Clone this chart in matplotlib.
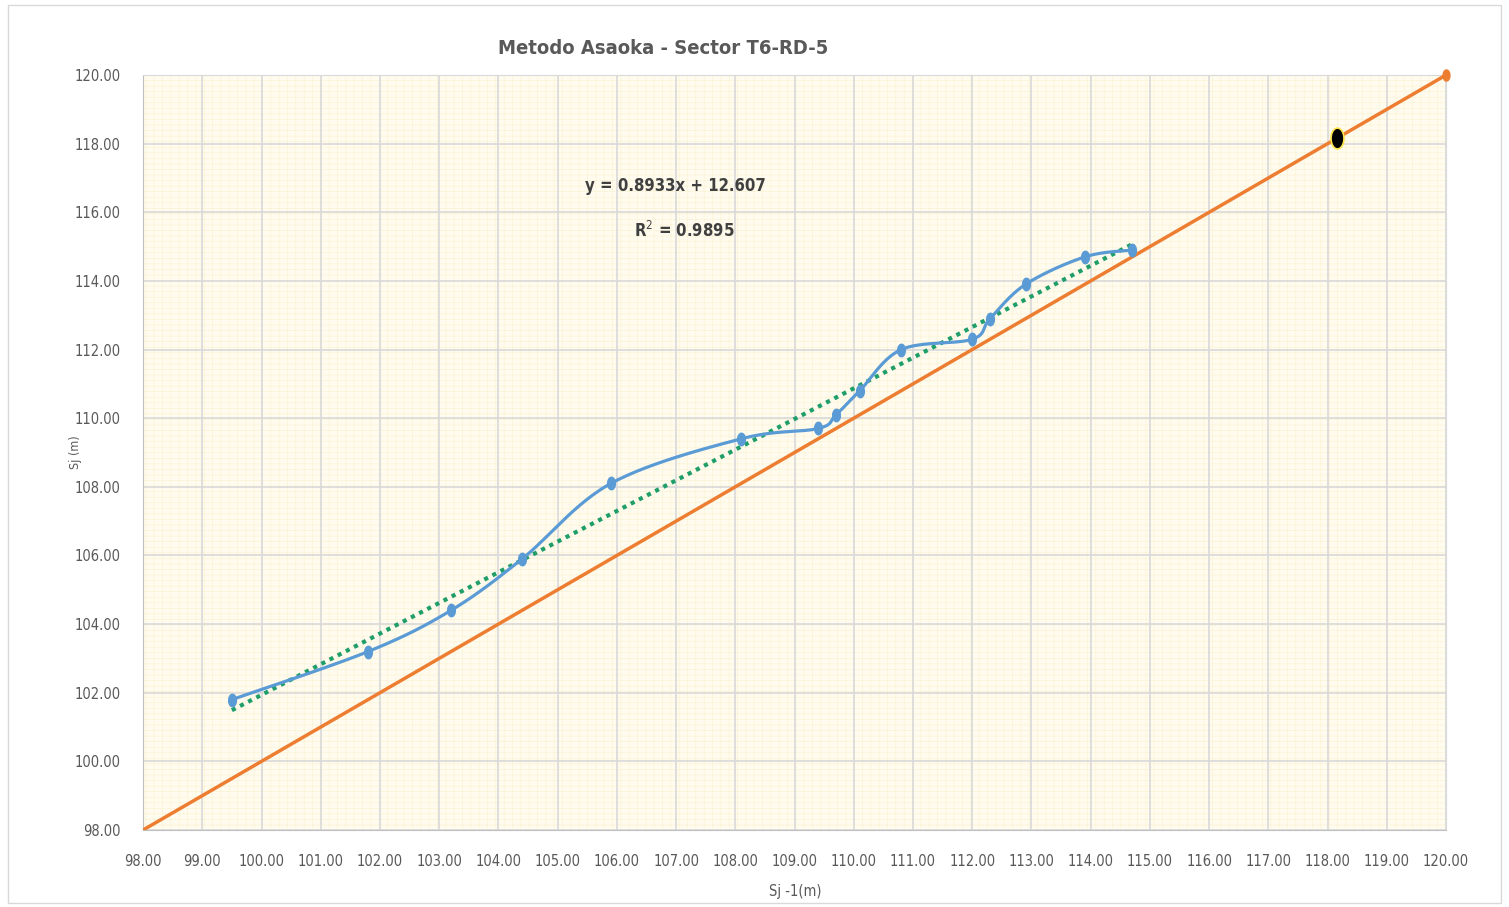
import numpy as np
import matplotlib
matplotlib.use("Agg")
from matplotlib import pyplot as plt
from matplotlib.patches import Rectangle

plt.rcParams['font.family'] = ['DejaVu Sans']
plt.rcParams['font.stretch'] = 'condensed'
plt.rcParams['hatch.linewidth'] = 0.4

# settlement readings (m): x = S(j-1), y = S(j)
s_prev = [99.5, 101.8, 103.2, 104.4, 105.9, 108.1, 109.4, 109.7,
          110.1, 110.8, 112.0, 112.3, 112.9, 113.9, 114.7]
s_curr = [101.8, 103.2, 104.4, 105.9, 108.1, 109.4, 109.7, 110.1,
          110.8, 112.0, 112.3, 112.9, 113.9, 114.7, 114.9]

# linear trendline shown in the chart
slope = 0.8933
intercept = 12.607
r2 = 0.9895

# 45 degree line and final settlement
diag = [98.0, 120.0]
s_final = intercept / (1 - slope)

x_ticks = np.arange(98, 121, 1)
y_ticks = np.arange(98, 121, 2)


def smooth(xs, ys, n=30):
    """Excel-like smoothed line (Catmull-Rom as cubic bezier)"""
    pts = np.column_stack([xs, ys])
    out = []
    for i in range(len(pts) - 1):
        p0 = pts[max(i - 1, 0)]
        p1 = pts[i]
        p2 = pts[i + 1]
        p3 = pts[min(i + 2, len(pts) - 1)]
        c1 = p1 + (p2 - p0) / 6
        c2 = p2 - (p3 - p1) / 6
        t = np.linspace(0, 1, n)[:, None]
        seg = ((1 - t) ** 3) * p1 + 3 * ((1 - t) ** 2) * t * c1 \
            + 3 * (1 - t) * t ** 2 * c2 + t ** 3 * p2
        out.append(seg)
    out = np.vstack(out)
    return out[:, 0], out[:, 1]


# tall ellipse marker (the picture is squeezed sideways)
th = np.linspace(0, 2 * np.pi, 40)
ell = list(zip(0.62 * np.cos(th), np.sin(th)))

fig = plt.figure(figsize=(15.09, 9.07), dpi=100)
ax = fig.add_axes([0.0948, 0.0849, 0.8635, 0.8324])

# brick-like pattern background
ax.add_patch(Rectangle((0, 0), 1, 1, transform=ax.transAxes,
                       facecolor='#FFFCEF', edgecolor='#FAF1CF',
                       hatch='---||', linewidth=0, zorder=0.1))
ax.set_axisbelow(True)
ax.grid(True, color='#D9D9D9', linewidth=1.2)

# orange y = x line
ax.plot(diag, diag, color='#ED7D31', linewidth=2.5, zorder=3)
ax.plot([diag[1]], [diag[1]], marker=ell, color='#ED7D31', markersize=8,
        zorder=4, clip_on=False, linestyle='none')

# trendline
tx = np.array([s_prev[0], s_prev[-1]])
ax.plot(tx, slope * tx + intercept, linestyle=(0, (1, 1.2)),
        color='#1F9E6A', linewidth=3, zorder=4)

# smoothed data
sx, sy = smooth(s_prev, s_curr)
ax.plot(sx, sy, color='#5B9BD5', linewidth=2.3, zorder=5)
ax.plot(s_prev, s_curr, marker=ell, linestyle='none', color='#5B9BD5',
        markersize=9, zorder=6)

# final settlement
ax.plot([s_final], [s_final], marker=ell, linestyle='none', color='black',
        markersize=15, markeredgecolor='#FFE34D', markeredgewidth=1.2,
        zorder=7)

ax.set_xlim(98, 120)
ax.set_ylim(98, 120)
ax.set_xticks(x_ticks)
ax.set_yticks(y_ticks)
ax.set_xticklabels([f"{v:.2f}" for v in x_ticks])
ax.set_yticklabels([f"{v:.2f}" for v in y_ticks])
ax.tick_params(colors='#595959', labelsize=10.5, length=0)
ax.tick_params(axis='x', pad=17)
ax.tick_params(axis='y', pad=16)
for side in ['top', 'right']:
    ax.spines[side].set_color('#D9D9D9')
ax.spines['left'].set_color('#BFBFBF')
ax.spines['bottom'].set_color('#BFBFBF')

ax.set_xlabel("Sj -1(m)", color='#595959', fontsize=10.5)
ax.set_ylabel("Sj (m)", color='#595959', fontsize=9)
ax.xaxis.set_label_coords(0.5005, -0.0715)
ax.yaxis.set_label_coords(-0.047, 0.5)

fig.text(0.4395, 0.946, "Metodo Asaoka - Sector T6-RD-5", ha='center',
         va='center', fontsize=14.5, fontweight='bold', color='#595959')

ax.text(106.98, 116.77, f"y = {slope}x + {intercept}", ha='center',
        va='center', fontsize=12, fontweight='bold', color='#404040')
ax.text(107.13, 115.45, f"R$^2$ = {r2}", ha='center', va='center',
        fontsize=12, fontweight='bold', color='#404040')

# outer chart frame
fig.add_artist(Rectangle((0.005, 0.004), 0.99, 0.99, transform=fig.transFigure,
                         fill=False, edgecolor='#D9D9D9', linewidth=1))

fig.savefig("out.png", dpi=100)
